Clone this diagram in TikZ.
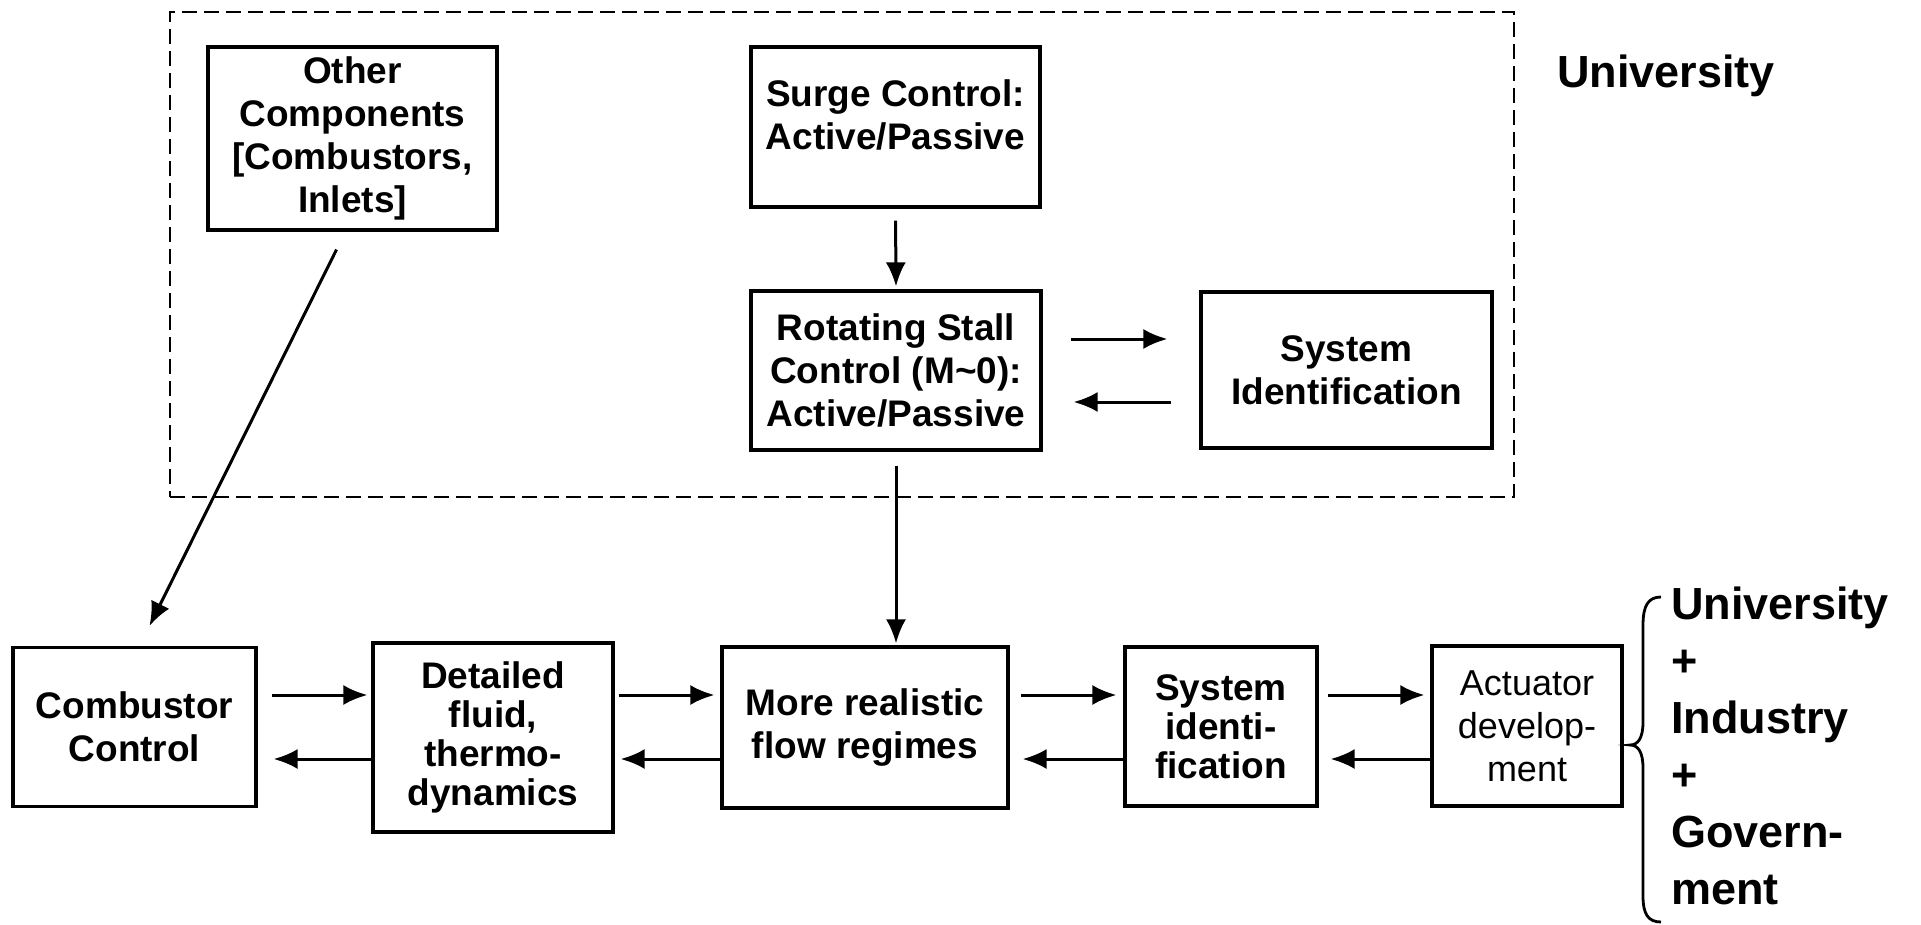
\documentclass[tikz,border=0pt]{standalone}
\usepackage{fontspec}
\setmainfont{Liberation Sans}
\usetikzlibrary{arrows.meta}
\newcommand{\boxfont}{\fontsize{37}{43}\selectfont\bfseries}
\newcommand{\boxfonttight}{\fontsize{37}{39}\selectfont\bfseries}
\newcommand{\boxfontreg}{\fontsize{36}{43}\selectfont}
\newcommand{\lblfont}{\fontsize{45}{57}\selectfont\bfseries}
\tikzset{
  blk/.style={draw, line width=3.2pt, align=center, inner sep=0pt, font=\boxfont},
  arr/.style={line width=3pt, -{Latex[length=24pt,width=20pt]}},
  grp/.style={draw, dash pattern=on 15pt off 7pt, line width=2.8pt, inner sep=0pt},
  lbl/.style={font=\lblfont, align=left, inner sep=0pt},
  bracestyle/.style={line width=2.8pt}
}
\begin{document}
\begin{tikzpicture}[x=1pt,y=-1pt]
\useasboundingbox (0,0) rectangle (1921,925);
\fill[white] (0,0) rectangle (1921,925);

% University group frame
\node[grp, minimum width=1344pt, minimum height=485pt] (uni) at (842,254.5) {};

% top boxes
\node[blk, minimum width=289pt, minimum height=183pt] (other) at (352.5,138.5) {Other\\Components\\{[}Combustors,\\Inlets{]}};
\node[blk, minimum width=289pt, minimum height=160pt] (surge) at (895.5,127) {Surge Control:\\Active/Passive\\[-19pt]\mbox{}};
\node[blk, minimum width=290pt, minimum height=159pt] (rot) at (896,370.5) {Rotating Stall\\Control (M\textasciitilde0):\\Active/Passive};
\node[blk, minimum width=291pt, minimum height=156pt] (sysa) at (1346.5,370) {System\\Identification};

\node[lbl] (ulabel) at (1666,76) {University};

% bottom row
\node[blk, minimum width=243pt, minimum height=159pt] (comb) at (134.5,727) {Combustor\\Control};
\node[blk, font=\boxfonttight, minimum width=240pt, minimum height=189pt] (det) at (493,737.5) {Detailed\\fluid,\\thermo-\\dynamics};
\node[blk, minimum width=286pt, minimum height=161pt] (more) at (865,727.5) {More realistic\\flow regimes};
\node[blk, font=\boxfonttight, minimum width=192pt, minimum height=159pt] (sysb) at (1221,726.5) {System\\identi-\\fication};
\node[blk, font=\boxfontreg, minimum width=190pt, minimum height=160pt] (act) at (1527,726) {Actuator\\develop-\\ment};

\node[lbl, anchor=west] (partners) at (1671,746) {University\\+\\Industry\\+\\Govern-\\ment};

% row coordinates
\coordinate (tr) at (0,339);
\coordinate (tl) at (0,402);
\coordinate (rr) at (0,695);
\coordinate (ll) at (0,759);

% top connectors
\draw[arr, shorten <=12pt, shorten >=3pt] (surge.south) -- (rot.north);
\draw[arr, shorten <=28pt, shorten >=32pt] (rot.east |- tr) -- (sysa.west |- tr);
\draw[arr, shorten <=28pt, shorten >=31pt] (sysa.west |- tl) -- (rot.east |- tl);
\draw[arr, shorten <=14pt, shorten >=2pt] (rot.south) -- (rot.south |- more.north);
\draw[arr] ([xshift=-16pt,yshift=-18pt]other.south) -- ([xshift=15pt,yshift=20pt]comb.north);

% bottom connectors
\draw[arr, shorten <=14pt, shorten >=4pt] (comb.east |- rr) -- (det.west |- rr);
\draw[arr, shorten >=16pt] (det.west |- ll) -- (comb.east |- ll);
\draw[arr, shorten <=4pt, shorten >=6pt] (det.east |- rr) -- (more.west |- rr);
\draw[arr, shorten >=6pt] (more.west |- ll) -- (det.east |- ll);
\draw[arr, shorten <=11pt, shorten >=7pt] (more.east |- rr) -- (sysb.west |- rr);
\draw[arr, shorten >=13pt] (sysb.west |- ll) -- (more.east |- ll);
\draw[arr, shorten <=9pt, shorten >=6pt] (sysb.east |- rr) -- (act.west |- rr);
\draw[arr, shorten >=12pt] (act.west |- ll) -- (sysb.east |- ll);

% brace
\draw[bracestyle] (1661,597) .. controls (1648,597) and (1643,606) .. (1643,625)
  -- (1643,722) .. controls (1643,738) and (1638,745) .. (1630,745)
  .. controls (1638,745) and (1643,752) .. (1643,768)
  -- (1643,896) .. controls (1643,914) and (1648,922) .. (1661,922);
\end{tikzpicture}
\end{document}
